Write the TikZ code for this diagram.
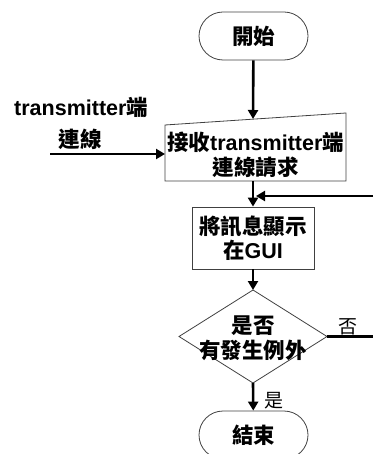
\documentclass[tikz,border=0pt]{standalone}
\usepackage{fontspec}
\setmainfont{Liberation Sans}
\newfontfamily\cjk{Noto Sans CJK TC}
\usetikzlibrary{arrows.meta,shapes.misc}
\begin{document}
\begin{tikzpicture}[x=1pt,y=-1pt,
  conn/.style={line width=2.6pt,-{Triangle[length=9pt,width=10pt]}},
  plain/.style={line width=2.6pt},
  shapeline/.style={draw=black!75,line width=0.8pt},
  txt/.style={font=\fontsize{21.5}{24.5}\selectfont\bfseries,align=center,inner sep=0pt},
  lbl/.style={font=\fontsize{19}{22}\selectfont\cjk,inner sep=0pt},
  term/.style={rounded rectangle,shapeline,minimum width=109pt,minimum height=48pt,txt}]
\useasboundingbox (0,0) rectangle (373,454);
% start
\node[term] (start) at (253.5,36) {\cjk 開始};
% manual input
\coordinate (mi1) at (165,125);
\coordinate (mi2) at (346,113);
\coordinate (mi3) at (346,181);
\coordinate (mi4) at (165,181);
\draw[shapeline] (mi1) -- (mi2) -- (mi3) -- (mi4) -- cycle;
\node[txt] (recv) at (255.5,155) {{\cjk 接收}transmitter{\cjk 端}\\{\cjk 連線請求}};
\coordinate (recvT) at (253,119);
\coordinate (recvL) at (165,154);
\coordinate (recvB) at (253,181);
% process
\node[draw=black!75,line width=0.8pt,minimum width=122pt,minimum height=62pt,txt] (proc) at (253,238) {{\cjk 將訊息顯示}\\{\cjk 在}GUI};
% decision
\coordinate (dT) at (253,290);
\coordinate (dR) at (327,336.5);
\coordinate (dB) at (253,383);
\coordinate (dL) at (179,336.5);
\draw[shapeline] (dT) -- (dR) -- (dB) -- (dL) -- cycle;
\node[txt] (dec) at (253,338) {{\cjk 是否}\\{\cjk 有發生例外}};
% end
\node[term] (end) at (253.5,435) {\cjk 結束};
% left input
\node[txt,anchor=west] (inlbl) at (14,107) {transmitter{\cjk 端}};
\node[txt] (inlbl2) at (80,139) {\cjk 連線};
\coordinate (inS) at (50,154);
% right loop
\coordinate (loopS) at (373,196);
\coordinate (loopE) at (256,196);
\coordinate (noE) at (373,336.5);
% connectors
\draw[conn] (start) -- (recvT);
\draw[conn] (inS) -- (recvL);
\draw[conn] (recvB) -- (proc);
\draw[conn] (loopS) -- (loopE);
\draw[conn] (proc) -- (dT);
\draw[plain] (dR) -- (noE);
\draw[conn] (dB) -- (end);
\node[lbl] (no) at (348,327) {否};
\node[lbl] (yes) at (274,401) {是};
\end{tikzpicture}
\end{document}
